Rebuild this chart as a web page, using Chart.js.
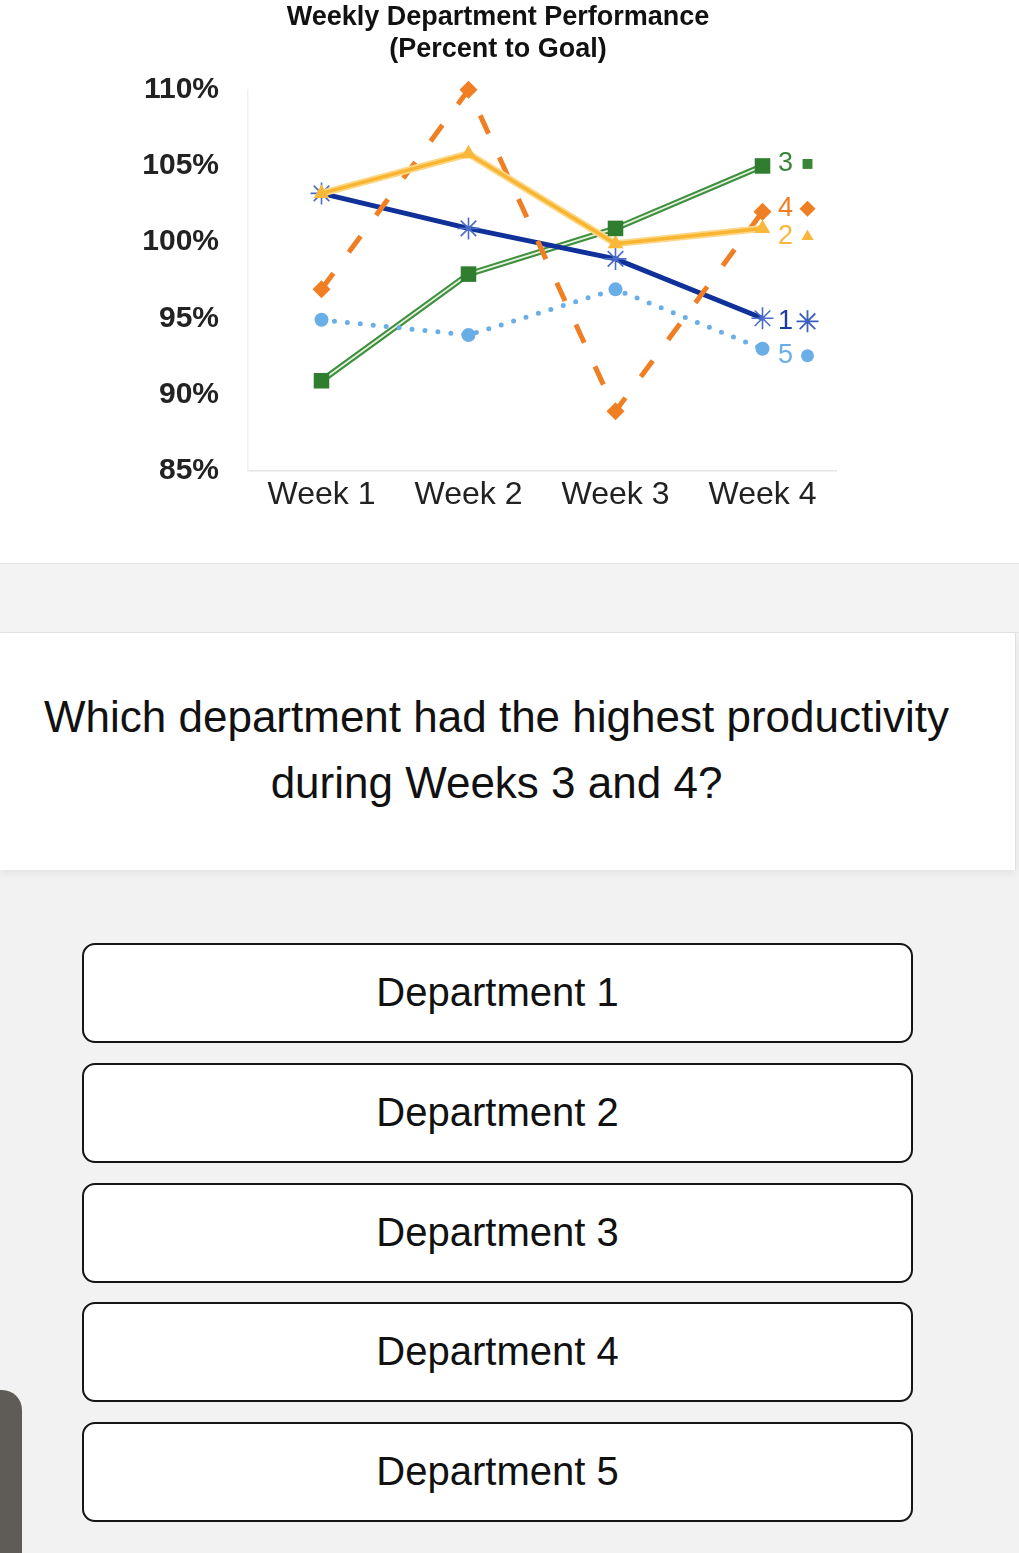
<!DOCTYPE html>
<html>
<head>
<meta charset="utf-8">
<script src="https://cdn.jsdelivr.net/npm/chart.js@4"></script>
<style>
  body { margin: 0; width: 1019px; height: 1553px; overflow: hidden; background: #f2f2f2; font-family: 'Liberation Sans', Arial, sans-serif; position: relative; }
  #top { position: absolute; left: 0; top: 0; width: 1019px; height: 563px; background: #fff; }
  #c { position: absolute; left: 0; top: 0; }
  #band { position: absolute; left: 0; top: 563px; width: 1019px; height: 68px; background: #f3f3f3; border-top: 1px solid #e3e3e3; border-bottom: 1px solid #e3e3e3; }
  #card { position: absolute; left: 0; top: 633px; width: 1016px; height: 237px; background: #fff; border-right: 1px solid #e0e0e0; box-shadow: 0 4px 8px rgba(0,0,0,0.06); text-align: center; font-size: 44px; line-height: 66px; color: #111; box-sizing: border-box; padding-top: 51px; padding-right: 22px; }
  .btn { position: absolute; left: 82px; width: 831px; height: 100px; box-sizing: border-box; border: 2.5px solid #151515; border-radius: 13px; background: #fff; text-align: center; font-size: 40px; line-height: 95px; color: #111; }
  #thumb { position: absolute; left: 0; top: 1390px; width: 22px; height: 163px; background: #5f5b57; border-top-right-radius: 20px; }
</style>
</head>
<body>
<div id="top"><canvas id="c" width="996" height="540"></canvas></div>
<div id="band"></div>
<div id="card">Which department had the highest productivity<br>during Weeks 3 and 4?</div>
<div class="btn" style="top:943px">Department 1</div>
<div class="btn" style="top:1063px">Department 2</div>
<div class="btn" style="top:1183px">Department 3</div>
<div class="btn" style="top:1302px">Department 4</div>
<div class="btn" style="top:1422px">Department 5</div>
<div id="thumb"></div>
<script>
// data (percent to goal)
const weeks = ['Week 1', 'Week 2', 'Week 3', 'Week 4'];
const dept1 = [103.2, 100.9, 98.9, 95.0];
const dept2 = [103.2, 105.8, 99.9, 100.9];
const dept3 = [90.9, 97.9, 100.9, 105.0];
const dept4 = [96.9, 110.0, 88.9, 102.0];
const dept5 = [94.9, 93.9, 96.9, 93.0];
const yTicks = [85, 90, 95, 100, 105, 110];

const FONT = "'Liberation Sans', Arial, sans-serif";

// end-of-line labels ("3 ■" etc.)
const endLabels = [
  { data: dept3, text: '3', color: '#3a853a', style: 'rect', radius: 7, dy: -2 },
  { data: dept4, text: '4', color: '#f07f23', style: 'rectRot', radius: 8, dy: -3 },
  { data: dept2, text: '2', color: '#f8b73c', style: 'triangle', radius: 7, dy: 8 },
  { data: dept1, text: '1', color: '#1b3c9e', style: 'star', radius: 11, dy: 3, symColor: '#3d5fbf' },
  { data: dept5, text: '5', color: '#6aaee8', style: 'circle', radius: 6.5, dy: 7 }
];

const endLabelPlugin = {
  id: 'endLabels',
  afterDatasetsDraw(chart) {
    const ctx = chart.ctx;
    const xs = chart.scales.x, ys = chart.scales.y;
    const last = weeks.length - 1;
    ctx.save();
    ctx.font = '27px ' + FONT;
    ctx.textAlign = 'center';
    ctx.textBaseline = 'middle';
    endLabels.forEach(l => {
      const x = xs.getPixelForValue(last);
      const y = ys.getPixelForValue(l.data[last]) + l.dy;
      ctx.fillStyle = l.color;
      ctx.fillText(l.text, x + 23, y);
      ctx.fillStyle = l.symColor || l.color;
      ctx.strokeStyle = l.symColor || l.color;
      ctx.lineWidth = 1.8;
      Chart.helpers.drawPoint(ctx, { pointStyle: l.style, radius: l.radius, rotation: 0, borderWidth: l.style === 'star' ? 1.8 : 0 }, x + 45, y);
    });
    ctx.restore();
  }
};

new Chart(document.getElementById('c'), {
  type: 'line',
  data: {
    labels: weeks,
    datasets: [
      { label: 'Dept 3 pts', data: dept3, showLine: false, pointStyle: 'rect', pointRadius: 11,
        pointBackgroundColor: '#2f7d2f', pointBorderWidth: 0, order: 0 },
      { label: 'Dept 2 inner', data: dept2, borderColor: '#f8b531', borderWidth: 3.5, pointStyle: 'triangle',
        pointRadius: 9, pointBackgroundColor: '#f9b83a', pointBorderWidth: 0, order: 1 },
      { label: 'Dept 2 outer', data: dept2, borderColor: '#fdd788', borderWidth: 7, pointRadius: 0, order: 2 },
      { label: 'Dept 4', data: dept4, borderColor: '#f07f23', borderWidth: 5, borderDash: [20, 26],
        pointStyle: 'rectRot', pointRadius: 9, pointBackgroundColor: '#f07f23', pointBorderWidth: 0, order: 3 },
      { label: 'Dept 5', data: dept5, borderColor: '#6aaee8', borderWidth: 5, borderDash: [0, 13], borderCapStyle: 'round',
        pointStyle: 'circle', pointRadius: 7, pointBackgroundColor: '#6aaee8', pointBorderWidth: 0, order: 4 },
      { label: 'Dept 1', data: dept1, borderColor: '#0f3199', borderWidth: 5, pointStyle: 'star', pointRadius: 11,
        pointBorderColor: '#4a6cc4', pointBackgroundColor: '#4a6cc4', pointBorderWidth: 1.6, order: 5 },
      { label: 'Dept 3 inner', data: dept3, borderColor: '#e4f2de', borderWidth: 1.8, pointRadius: 0, order: 6 },
      { label: 'Dept 3 outer', data: dept3, borderColor: '#3f8f3f', borderWidth: 6, pointRadius: 0, order: 7 }
    ]
  },
  options: {
    responsive: false,
    animation: false,
    clip: false,
    layout: { padding: { left: 0, right: 0, top: 0, bottom: 21 } },
    plugins: {
      legend: { display: false },
      tooltip: { enabled: false },
      title: {
        display: true,
        text: ['Weekly Department Performance', '(Percent to Goal)'],
        color: '#111',
        font: { family: FONT, size: 27, weight: 'bold', lineHeight: 1.2 },
        padding: { top: 1, bottom: 24 }
      }
    },
    scales: {
      x: {
        type: 'category',
        offset: true,
        grid: { display: false, drawTicks: false },
        border: { display: true, color: '#e4e4e4', width: 1.5 },
        ticks: { color: '#222', font: { family: FONT, size: 32 }, padding: 5, maxRotation: 0, autoSkip: false }
      },
      y: {
        min: 85, max: 110,
        grid: { display: false, drawTicks: false },
        border: { display: true, color: '#f0f0f0', width: 1.5 },
        afterBuildTicks: s => { s.ticks = yTicks.map(v => ({ value: v })); },
        afterFit: s => { s.width = 248; },
        ticks: { color: '#222', font: { family: FONT, size: 30, weight: 'bold' }, padding: 29, callback: v => v + '%' }
      },
      yr: {
        position: 'right',
        min: 85, max: 110,
        grid: { display: false, drawTicks: false },
        border: { display: false },
        ticks: { display: false },
        afterFit: s => { s.width = 160; }
      }
    }
  },
  plugins: [endLabelPlugin]
});
</script>
</body>
</html>
